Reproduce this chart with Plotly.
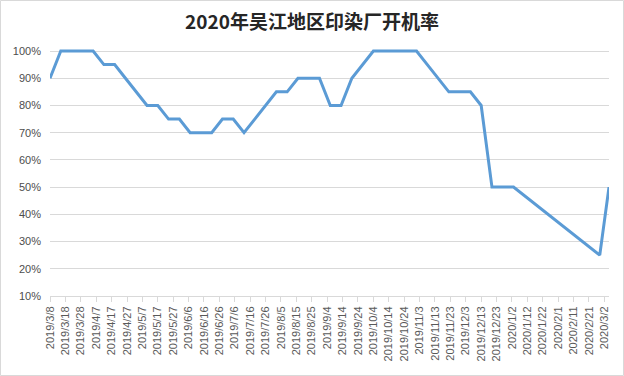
import plotly.graph_objects as go

title_text = "2020年吴江地区印染厂开机率"

dates = [
    "2019-03-08", "2019-03-15", "2019-03-22", "2019-03-29", "2019-04-05",
    "2019-04-12", "2019-04-19", "2019-04-26", "2019-05-03", "2019-05-10",
    "2019-05-17", "2019-05-24", "2019-05-31", "2019-06-07", "2019-06-14",
    "2019-06-21", "2019-06-28", "2019-07-05", "2019-07-12", "2019-07-19",
    "2019-07-26", "2019-08-02", "2019-08-09", "2019-08-16", "2019-08-23",
    "2019-08-30", "2019-09-06", "2019-09-13", "2019-09-20", "2019-09-27",
    "2019-10-04", "2019-10-11", "2019-10-18", "2019-10-25", "2019-11-01",
    "2019-11-08", "2019-11-15", "2019-11-22", "2019-11-29", "2019-12-06",
    "2019-12-13", "2019-12-20", "2019-12-27", "2020-01-03", "2020-02-28",
    "2020-03-05",
]
rates = [
    0.90, 1.00, 1.00, 1.00, 1.00,
    0.95, 0.95, 0.90, 0.85, 0.80,
    0.80, 0.75, 0.75, 0.70, 0.70,
    0.70, 0.75, 0.75, 0.70, 0.75,
    0.80, 0.85, 0.85, 0.90, 0.90,
    0.90, 0.80, 0.80, 0.90, 0.95,
    1.00, 1.00, 1.00, 1.00, 1.00,
    0.95, 0.90, 0.85, 0.85, 0.85,
    0.80, 0.50, 0.50, 0.50, 0.25,
    0.50,
]
y_ticks = [0.1, 0.2, 0.3, 0.4, 0.5, 0.6, 0.7, 0.8, 0.9, 1.0]

W, H = 624, 376
ML, MR, MT, MB = 50, 15, 49, 80

fig = go.Figure()
fig.add_trace(go.Scatter(
    x=dates, y=rates, mode="lines",
    line=dict(color="#5B9BD5", width=3),
    hoverinfo="x+y",
))

pw = W - ML - MR
ph = H - MT - MB
fig.add_shape(
    type="rect", xref="paper", yref="paper",
    x0=(0.5 - ML) / pw, x1=(W - 0.5 - ML) / pw,
    y0=-(MB - 0.5) / ph, y1=1 + (MT - 0.5) / ph,
    line=dict(color="#D9D9D9", width=1), fillcolor="rgba(0,0,0,0)",
    layer="below",
)

fig.update_layout(
    width=W, height=H,
    margin=dict(l=ML, r=MR, t=MT, b=MB, autoexpand=False),
    paper_bgcolor="white", plot_bgcolor="white",
    showlegend=False,
    title=dict(
        text="<b>" + title_text + "</b>",
        x=0.5, xref="container", xanchor="center",
        y=1 - 22 / H, yanchor="middle",
        font=dict(family="Noto Sans CJK SC", size=19, color="#262626"),
    ),
    font=dict(family="Liberation Sans", color="#595959"),
    xaxis=dict(
        type="date", automargin=False,
        range=[dates[0], dates[-1]],
        tick0=dates[0], dtick=10 * 86400000,
        tickformat="%Y/%-m/%-d",
        tickangle=-90,
        tickfont=dict(size=11, color="#595959"),
        showgrid=False, zeroline=False,
        showline=True, linecolor="#D9D9D9", linewidth=1,
        ticks="outside", ticklen=5, tickcolor="#D9D9D9",
    ),
    yaxis=dict(
        automargin=False,
        range=[0.1, 1.0074],
        tickvals=y_ticks,
        tickformat=".0%",
        tickfont=dict(size=11, color="#4D4D4D"),
        showgrid=True, gridcolor="#D9D9D9", gridwidth=1,
        zeroline=False, showline=False, ticks="",
        ticklabelstandoff=8,
    ),
)

fig.write_html(
    "out.html",
    config={"displayModeBar": False},
    post_script="document.body.style.margin='0';document.body.style.padding='0';",
)
